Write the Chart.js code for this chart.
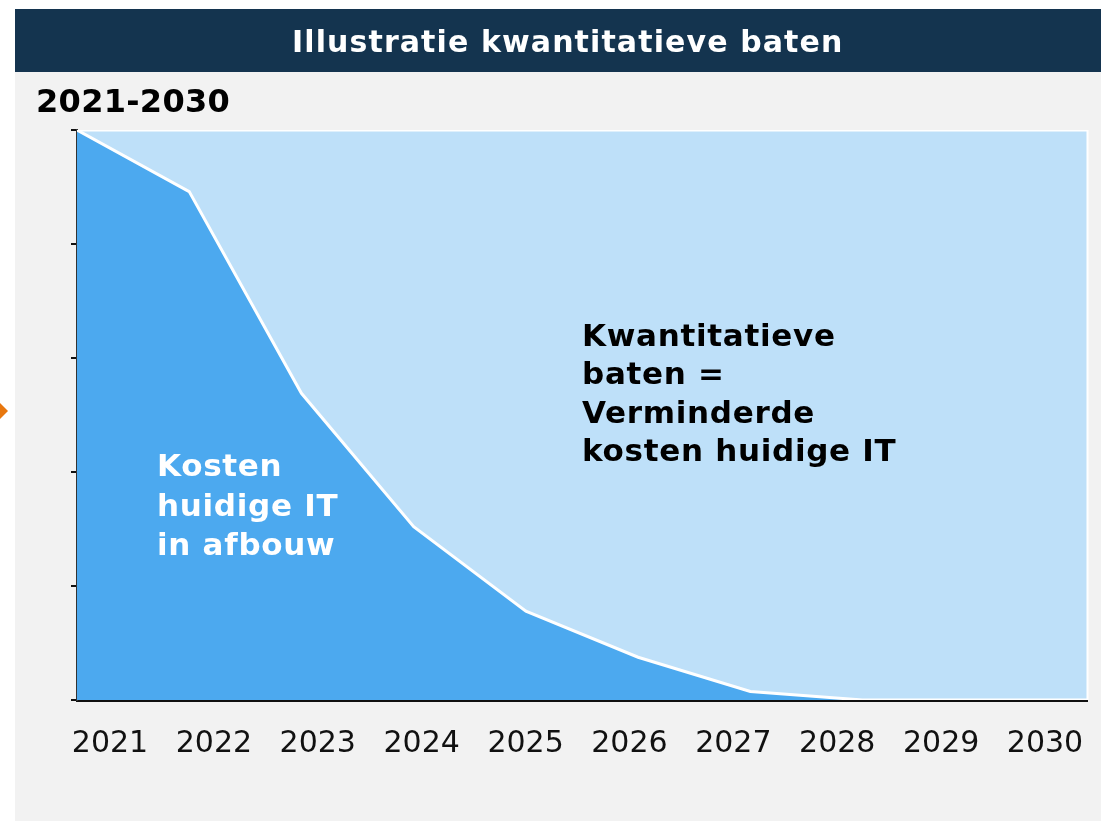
<!DOCTYPE html>
<html>
<head>
<meta charset="utf-8">
<script src="https://cdn.jsdelivr.net/npm/chart.js@4.4.1/dist/chart.umd.min.js"></script>
<style>
  body { margin: 0; background: #fff; width: 1101px; height: 821px; overflow: hidden; position: relative; font-family: "DejaVu Sans", Verdana, sans-serif; }
  #header { position: absolute; left: 15px; top: 9px; width: 1086px; height: 63px; background: #14344f; }
  #panel { position: absolute; left: 15px; top: 72px; width: 1086px; height: 749px; background: #f2f2f2; }
  #title { position: absolute; left: 292px; top: 27px; font-size: 30px; line-height: 30px; font-weight: bold; letter-spacing: 1.1px; color: #fff; white-space: nowrap; }
  #period { position: absolute; left: 36px; top: 85px; font-size: 32px; line-height: 32px; font-weight: bold; letter-spacing: 0.3px; color: #000; white-space: nowrap; }
  #arrow { position: absolute; left: 0; top: 403px; width: 8px; height: 16px; background: #e8770e; clip-path: polygon(0 0, 100% 50%, 0 100%); }
  canvas { position: absolute; left: 0; top: 0; }
  .note { position: absolute; font-size: 31px; font-weight: bold; letter-spacing: 0.7px; white-space: nowrap; }
  #costs { left: 157px; top: 446px; line-height: 39.5px; color: #fff; }
  #benefits { left: 582px; top: 316px; line-height: 38.3px; color: #000; }
</style>
</head>
<body>
<div id="header"></div>
<div id="panel"></div>
<div id="arrow"></div>
<canvas id="chart" width="1101" height="821"></canvas>
<div id="title">Illustratie kwantitatieve baten</div>
<div id="period">2021-2030</div>
<div class="note" id="costs">Kosten<br>huidige IT<br>in afbouw</div>
<div class="note" id="benefits">Kwantitatieve<br>baten =<br>Verminderde<br>kosten huidige IT</div>

<script>
// years shown under the axis
var years = ['2021', '2022', '2023', '2024', '2025', '2026', '2027', '2028', '2029', '2030'];
// remaining cost of current IT (index, 2021 = 100)
var currentCosts = [100, 89.2, 53.8, 30.4, 15.6, 7.5, 1.5, 0, 0, 0];
// total cost level (upper edge of the benefits area)
var totalCosts = [100, 100, 100, 100, 100, 100, 100, 100, 100, 100];

var darkBlue = '#4ca9ef';
var lightBlue = '#bee0f9';

function toPoints(values) {
    return values.map(function(v, i) { return { x: i, y: v }; });
}

// thin white edge on the right side of the area block
var rightEdge = {
    id: 'rightEdge',
    afterDatasetsDraw: function(chart) {
        var a = chart.chartArea;
        var c = chart.ctx;
        c.save();
        c.strokeStyle = '#ffffff';
        c.lineWidth = 2;
        c.beginPath();
        c.moveTo(a.right + 0.5, a.top);
        c.lineTo(a.right + 0.5, a.bottom);
        c.stroke();
        c.restore();
    }
};

var ctx = document.getElementById('chart').getContext('2d');
var chart = new Chart(ctx, {
    type: 'line',
    data: {
        datasets: [{
            label: 'Kosten huidige IT',
            data: toPoints(currentCosts),
            backgroundColor: darkBlue,
            borderColor: '#ffffff',
            borderWidth: 3,
            pointRadius: 0,
            tension: 0,
            fill: 'start'
        }, {
            label: 'Kwantitatieve baten',
            data: toPoints(totalCosts),
            backgroundColor: lightBlue,
            borderColor: '#ffffff',
            borderWidth: 3,
            pointRadius: 0,
            tension: 0,
            fill: 'start'
        }]
    },
    options: {
        responsive: false,
        animation: false,
        layout: {
            padding: { left: 71, right: 14, top: 130, bottom: 61 }
        },
        plugins: {
            legend: { display: false },
            tooltip: { enabled: false }
        },
        scales: {
            x: {
                type: 'linear',
                min: 0,
                max: years.length - 1,
                display: false
            },
            x2: {
                type: 'linear',
                position: 'bottom',
                // shifted range so that the year labels sit where they do in the original
                min: -0.3176,
                max: 9.404,
                afterBuildTicks: function(scale) {
                    scale.ticks = years.map(function(y, i) { return { value: i }; });
                },
                afterFit: function(scale) {
                    scale.height = 60;
                    scale.paddingLeft = 0;
                    scale.paddingRight = 0;
                },
                grid: { display: false, drawTicks: false },
                border: { display: true, color: '#111', width: 3 },
                ticks: {
                    autoSkip: false,
                    maxRotation: 0,
                    padding: 26,
                    color: '#111',
                    font: { family: 'DejaVu Sans', size: 30 },
                    callback: function(value) { return years[value]; }
                }
            },
            y: {
                type: 'linear',
                min: 0,
                max: 100,
                afterFit: function(scale) { scale.width = 6; },
                grid: { drawOnChartArea: false, drawTicks: true, tickLength: 6, color: '#111', lineWidth: 2 },
                border: { display: true, color: '#333', width: 2 },
                ticks: { stepSize: 20, display: false }
            }
        }
    },
    plugins: [rightEdge]
});
</script>
</body>
</html>
